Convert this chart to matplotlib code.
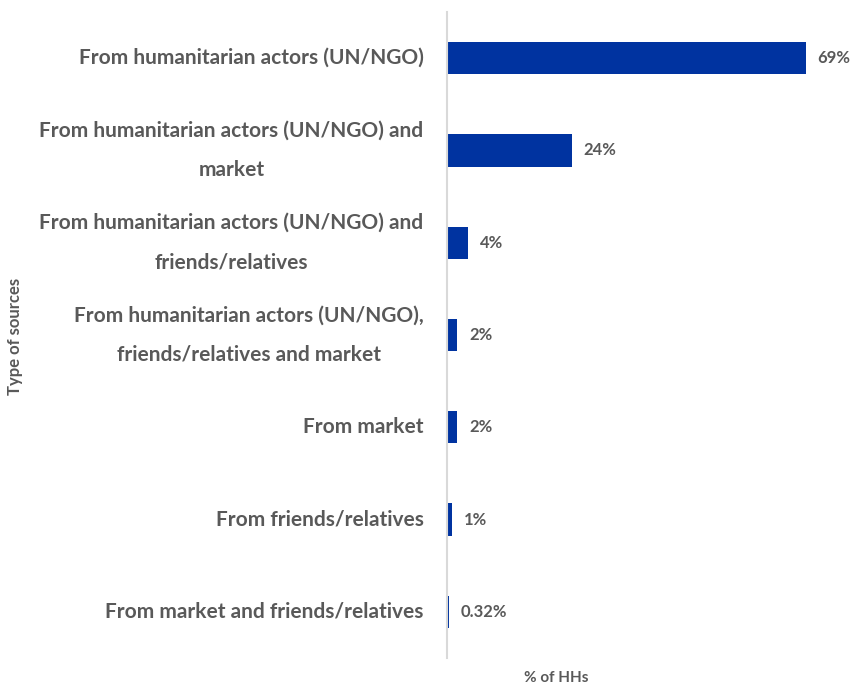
import matplotlib.pyplot as plt

categories = [
    "From humanitarian actors (UN/NGO)",
    "From humanitarian actors (UN/NGO) and\nmarket",
    "From humanitarian actors (UN/NGO) and\nfriends/relatives",
    "From humanitarian actors (UN/NGO),\nfriends/relatives and market",
    "From market",
    "From friends/relatives",
    "From market and friends/relatives",
]
values = [69, 24, 4, 2, 2, 1, 0.32]
value_labels = ["69%", "24%", "4%", "2%", "2%", "1%", "0.32%"]

plt.rcParams['font.family'] = ['Lato', 'DejaVu Sans']
grey = "#595959"

fig = plt.figure(figsize=(8.51, 6.85), dpi=100)
ax = fig.add_axes([447 / 851, 27 / 685, 404 / 851, 646 / 685])

ypos = list(range(len(categories)))
ax.barh(ypos, values, height=0.35, color="#0033a0")
ax.set_ylim(len(categories) - 0.5, -0.5)
ax.set_xlim(0, 77.7)

for y, v, lab in zip(ypos, values, value_labels):
    ax.annotate(lab, (v, y), xytext=(8.5, 0), textcoords="offset points",
                va="center", ha="left", fontsize=12, fontweight="bold", color=grey)

ax.set_yticks(ypos)
ax.set_yticklabels(categories, fontsize=15, fontweight="bold", color=grey,
                   multialignment="center", linespacing=2.2, va="center")
ax.tick_params(axis="y", length=0, pad=17)
ax.set_xticks([])

for s in ["top", "right", "bottom"]:
    ax.spines[s].set_visible(False)
ax.spines["left"].set_color("#d9d9d9")
ax.spines["left"].set_linewidth(1.5)

fig.text(556 / 851, 1 - 678 / 685, "% of HHs", ha="center", va="center",
         fontsize=11, fontweight="bold", color=grey)
fig.text(15 / 851, 1 - 336 / 685, "Type of sources", ha="center", va="center",
         rotation=90, fontsize=12, fontweight="bold", color=grey)

fig.savefig("out.png", dpi=100)
